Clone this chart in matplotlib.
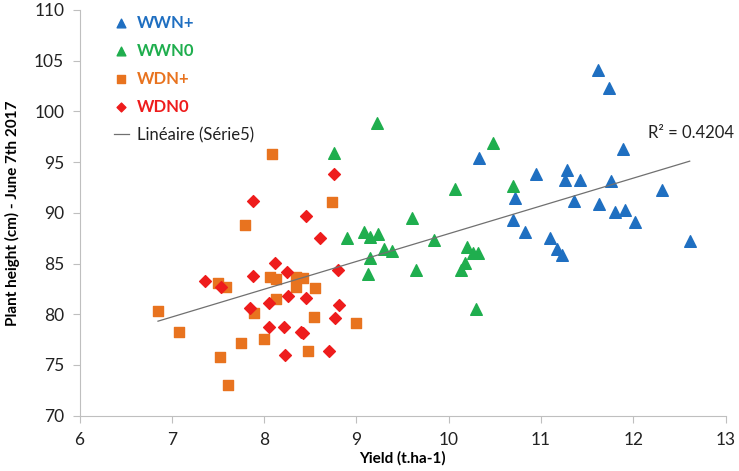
import matplotlib.pyplot as plt
import numpy as np

plt.rcParams['font.family'] = ['Lato', 'DejaVu Sans']

# yield (t/ha) and plant height (cm) per treatment
wwn_plus_x = [11.62, 11.74, 10.33, 11.89, 10.95, 11.28, 11.26, 11.42, 11.76, 12.31,
              10.72, 11.36, 11.63, 11.80, 11.91, 12.02, 10.70, 10.83, 11.10, 11.17,
              11.23, 12.61]
wwn_plus_y = [104.1, 102.3, 95.4, 96.3, 93.8, 94.2, 93.2, 93.2, 93.1, 92.3,
              91.5, 91.2, 90.9, 90.1, 90.3, 89.1, 89.3, 88.1, 87.5, 86.4,
              85.8, 87.2]

wwn0_x = [9.22, 8.76, 10.48, 10.07, 10.70, 9.60, 8.90, 9.08, 9.15, 9.23,
          9.30, 9.38, 9.15, 9.13, 9.84, 9.65, 10.20, 10.26, 10.32, 10.18,
          10.13, 10.30]
wwn0_y = [98.9, 95.9, 96.9, 92.4, 92.6, 89.5, 87.5, 88.1, 87.6, 87.9,
          86.4, 86.2, 85.5, 84.0, 87.3, 84.4, 86.6, 86.0, 86.0, 85.1,
          84.4, 80.5]

wdn_plus_x = [7.50, 7.59, 6.85, 7.08, 7.52, 7.61, 8.09, 8.73, 7.79, 8.06,
              8.13, 8.34, 8.42, 8.35, 8.55, 8.13, 7.89, 8.54, 9.00, 7.75,
              8.00, 8.48]
wdn_plus_y = [83.1, 82.7, 80.3, 78.3, 75.8, 73.0, 95.8, 91.1, 88.8, 83.7,
              83.5, 83.7, 83.6, 82.7, 82.6, 81.5, 80.1, 79.7, 79.1, 77.2,
              77.6, 76.4]

wdn0_x = [7.36, 7.53, 8.76, 7.88, 8.45, 8.60, 8.12, 8.25, 7.88, 8.80,
          8.26, 8.45, 8.05, 7.85, 8.81, 8.77, 8.05, 8.21, 8.40, 8.42,
          8.70, 8.23]
wdn0_y = [83.3, 82.7, 93.8, 91.2, 89.7, 87.5, 85.1, 84.2, 83.8, 84.4,
          81.8, 81.6, 81.1, 80.6, 80.9, 79.6, 78.7, 78.7, 78.3, 78.2,
          76.4, 76.0]

x_ticks = [6, 7, 8, 9, 10, 11, 12, 13]
y_ticks = [70, 75, 80, 85, 90, 95, 100, 105, 110]

c_blue = '#1f6fc1'
c_green = '#1fae4e'
c_orange = '#e8731f'
c_red = '#ee1c1c'

fig = plt.figure(figsize=(7.39, 4.71), dpi=100)
ax = fig.add_axes([0.1076, 0.1174, 0.8744, 0.8614])

ax.scatter(wwn_plus_x, wwn_plus_y, marker='^', s=70, color=c_blue, label='WWN+', zorder=3)
ax.scatter(wwn0_x, wwn0_y, marker='^', s=70, color=c_green, label='WWN0', zorder=3)
ax.scatter(wdn_plus_x, wdn_plus_y, marker='s', s=50, color=c_orange, label='WDN+', zorder=3)
ax.scatter(wdn0_x, wdn0_y, marker='D', s=36, color=c_red, label='WDN0', zorder=3)

# linear trend over all points
all_x = np.array(wwn_plus_x + wwn0_x + wdn_plus_x + wdn0_x)
all_y = np.array(wwn_plus_y + wwn0_y + wdn_plus_y + wdn0_y)
a, b = np.polyfit(all_x, all_y, 1)
xs = np.array([all_x.min(), all_x.max()])
ax.plot(xs, a * xs + b, color='#707070', lw=0.9, label='Linéaire (Série5)', zorder=4)
ax.text(12.16, 97.4, 'R² = 0.4204', fontsize=12, color='#222222')

ax.set_xlim(6, 13)
ax.set_ylim(70, 110)
ax.set_xticks(x_ticks)
ax.set_yticks(y_ticks)
ax.tick_params(labelsize=12.5, colors='#222222', length=5)
ax.tick_params(axis='both', color='#bfbfbf')
ax.tick_params(axis='x', pad=7)
ax.tick_params(axis='y', pad=6)
for s in ['top', 'right']:
    ax.spines[s].set_visible(False)
for s in ['left', 'bottom']:
    ax.spines[s].set_color('#bfbfbf')

ax.set_xlabel('Yield (t.ha-1)', fontsize=11, fontweight='bold', labelpad=2)
ax.set_ylabel('Plant height (cm) - June 7th 2017', fontsize=11, fontweight='bold', labelpad=10)

leg = ax.legend(loc='upper left', bbox_to_anchor=(0.03, 1.025), frameon=False,
                fontsize=12, handlelength=0.9, handletextpad=0.5, labelspacing=0.72,
                markerscale=0.75)
for txt, col in zip(leg.get_texts(), [c_blue, c_green, c_orange, c_red, '#222222']):
    txt.set_color(col)
    if col != '#222222':
        txt.set_fontweight('bold')

fig.savefig('out.png', dpi=100)
